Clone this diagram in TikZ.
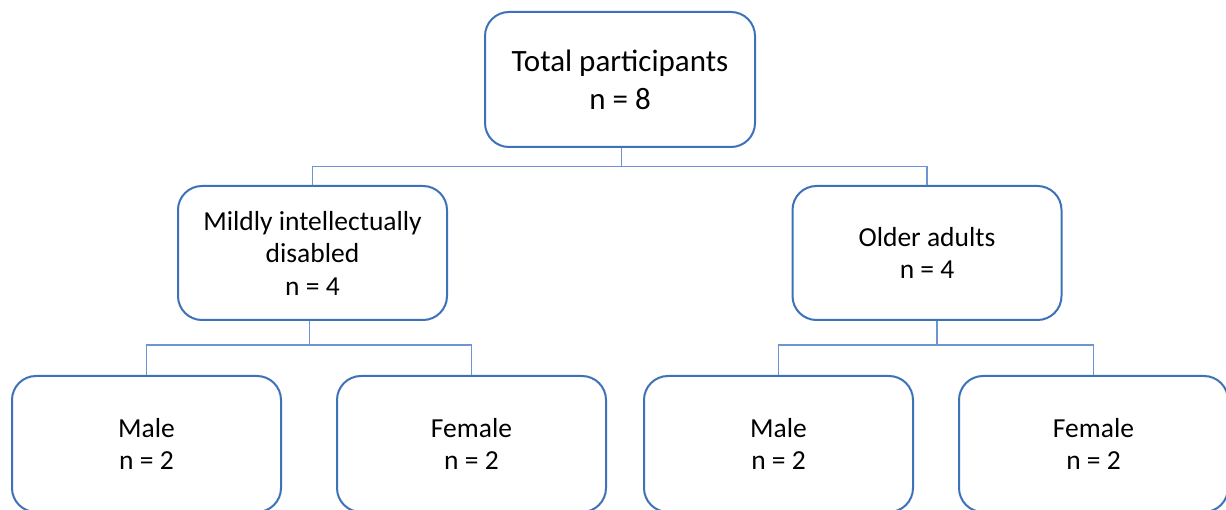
\documentclass[tikz,border=0pt]{standalone}
\usepackage{fontspec}
\setmainfont{Carlito}
\definecolor{boxblue}{RGB}{62,114,184}
\definecolor{linkblue}{RGB}{110,148,214}
\begin{document}
\begin{tikzpicture}[x=1pt,y=1pt,
  box/.style={draw=boxblue,line width=2pt,rounded corners=24pt,fill=white,
    minimum width=269pt,minimum height=134pt,align=center,inner sep=0pt,
    font=\fontsize{27.5}{32.5}\selectfont},
  bigbox/.style={box,font=\fontsize{31}{38}\selectfont},
  conn/.style={draw=linkblue,line width=1.1pt}]
\useasboundingbox (0,0) rectangle (1226,509);
\clip (0,0) rectangle (1226,509);
\node[bigbox,minimum width=270pt,minimum height=135pt] (top) at (620,429.5) {Total participants\\n = 8};
\node[box] (ml) at (312.5,256) {Mildly intellectually\\disabled\\n = 4};
\node[box] (mr) at (927,256) {Older adults\\n = 4};
\node[box,minimum height=136pt] (b1) at (146.5,65) {Male\\n = 2};
\node[box,minimum height=136pt] (b2) at (471.5,65) {Female\\n = 2};
\node[box,minimum height=136pt] (b3) at (778.5,65) {Male\\n = 2};
\node[box,minimum height=136pt] (b4) at (1093.5,65) {Female\\n = 2};
\draw[conn] ([xshift=1.5pt]top.south) -- ++(0,-18.5) coordinate (h1);
\draw[conn] (ml.north) |- (h1) -| (mr.north);
\draw[conn] ([xshift=-3pt]ml.south) -- ++(0,-24) coordinate (h2);
\draw[conn] (b1.north) |- (h2) -| (b2.north);
\draw[conn] ([xshift=10pt]mr.south) -- ++(0,-24) coordinate (h3);
\draw[conn] (b3.north) |- (h3) -| (b4.north);
\end{tikzpicture}
\end{document}
